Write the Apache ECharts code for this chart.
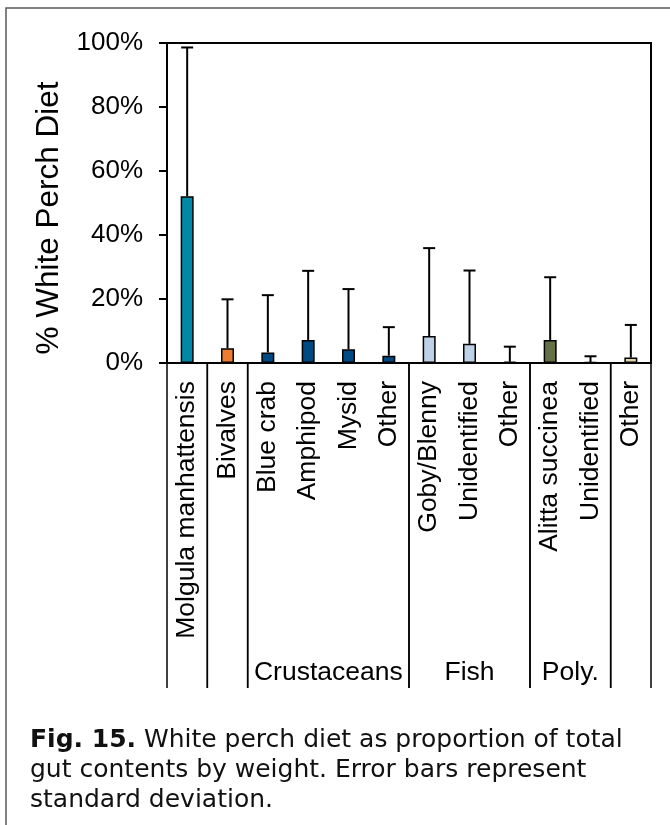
<!DOCTYPE html>
<html>
<head>
<meta charset="utf-8">
<script src="https://cdn.jsdelivr.net/npm/echarts@6/dist/echarts.min.js"></script>
<style>
html,body{margin:0;padding:0;background:#fff;}
#c{width:670px;height:825px;}
</style>
</head>
<body>
<div id="c"></div>
<script>
// ---- data ----
var categories = ['Molgula manhattensis','Bivalves','Blue crab','Amphipod','Mysid','Other','Goby/Blenny','Unidentified','Other','Alitta succinea','Unidentified','Other'];
var values = [52.1, 4.6, 3.3, 7.2, 4.3, 2.3, 8.4, 6.0, 0.4, 7.2, 0.3, 1.7];
var stdDev = [46.5, 15.3, 17.9, 21.6, 18.8, 8.9, 27.5, 22.9, 4.7, 19.6, 1.8, 10.2];
var groupNames = ['', '', 'Crustaceans', 'Fish', 'Poly.', ''];
var groupSizes = [1, 1, 4, 3, 2, 1];
var yTicks = [0, 20, 40, 60, 80, 100];
var barColors = ['#0089A7','#ED7D31','#004A84','#004A84','#004A84','#004A84','#BFD1E6','#BFD1E6','#BFD1E6','#647146','#647146','#E0D5A8'];
var captionLines = [
  ['Fig. 15.', ' White perch diet as proportion of total'],
  ['', 'gut contents by weight. Error bars represent'],
  ['', 'standard deviation.']
];

// ---- build ----
var groupData = [];
var s = 0;
for (var g = 0; g < groupNames.length; g++) {
  groupData.push([s, s + groupSizes[g] - 1, groupNames[g]]);
  s += groupSizes[g];
}
var errData = values.map(function (v, i) { return [i, v, v + stdDev[i]]; });
var barData = values.map(function (v, i) {
  return { value: v, itemStyle: { color: barColors[i] } };
});

var FONT = '"Liberation Sans", Arial, sans-serif';
var CAPFONT = '"DejaVu Sans", sans-serif';
var captionGraphics = captionLines.map(function (ln, i) {
  return {
    type: 'text', x: 30, y: 740 + i * 30, silent: true,
    style: {
      text: (ln[0] ? '{b|' + ln[0] + '}' : '') + ln[1],
      verticalAlign: 'middle', align: 'left',
      fontSize: 25, fontFamily: CAPFONT, fill: '#111',
      rich: { b: { fontWeight: 'bold', fontSize: 25, fontFamily: CAPFONT, fill: '#111' } }
    }
  };
});

var chart = echarts.init(document.getElementById('c'), null, { renderer: 'canvas' });
chart.setOption({
  animation: false,
  backgroundColor: '#fff',
  grid: { left: 167, right: 19, top: 43, bottom: 462, show: true, borderColor: '#000', borderWidth: 2 },
  xAxis: {
    type: 'category',
    data: categories,
    axisLine: { lineStyle: { color: '#000', width: 2 } },
    axisTick: { show: false },
    axisLabel: { rotate: 90, fontSize: 26.5, color: '#000', fontFamily: FONT, margin: 18, interval: 0 }
  },
  yAxis: {
    type: 'value',
    min: yTicks[0], max: yTicks[yTicks.length - 1], interval: yTicks[1] - yTicks[0],
    name: '% White Perch Diet',
    nameLocation: 'middle',
    nameGap: 100,
    nameRotate: 90,
    nameTextStyle: { fontSize: 31.5, color: '#000', fontFamily: FONT, padding: [0, 30, 0, 0] },
    splitLine: { show: false },
    axisLine: { show: true, lineStyle: { color: '#000', width: 2 } },
    axisTick: { show: true, length: 8, lineStyle: { color: '#000', width: 2 } },
    axisLabel: { formatter: '{value}%', fontSize: 26, color: '#000', fontFamily: FONT, margin: 24 }
  },
  series: [
    {
      type: 'bar',
      data: barData,
      barWidth: 13,
      itemStyle: { borderColor: '#000', borderWidth: 1.5 },
      z: 2
    },
    {
      type: 'custom',
      data: errData,
      z: 3,
      renderItem: function (params, api) {
        var x = api.value(0);
        var p0 = api.coord([x, api.value(1)]);
        var p1 = api.coord([x, api.value(2)]);
        var hw = 6;
        var st = { stroke: '#000', lineWidth: 2 };
        return {
          type: 'group',
          children: [
            { type: 'line', shape: { x1: p0[0], y1: p0[1], x2: p1[0], y2: p1[1] }, style: st },
            { type: 'line', shape: { x1: p1[0] - hw, y1: p1[1], x2: p1[0] + hw, y2: p1[1] }, style: st }
          ]
        };
      }
    },
    {
      type: 'custom',
      data: groupData,
      clip: false,
      z: 1,
      renderItem: function (params, api) {
        var a = api.coord([api.value(0), 0]);
        var b = api.coord([api.value(1), 0]);
        var bw = api.size([1, 0])[0];
        var x0 = a[0] - bw / 2, x1 = b[0] + bw / 2, y0 = a[1];
        var st = { stroke: '#000', lineWidth: 1.5 };
        return {
          type: 'group',
          children: [
            { type: 'line', shape: { x1: x0, y1: y0, x2: x0, y2: y0 + 325 }, style: st },
            { type: 'line', shape: { x1: x1, y1: y0, x2: x1, y2: y0 + 325 }, style: st },
            { type: 'text', style: { text: api.value(2), x: (x0 + x1) / 2, y: y0 + 310, align: 'center', verticalAlign: 'middle', fontSize: 26.5, fontFamily: FONT, fill: '#000' } }
          ]
        };
      }
    }
  ],
  graphic: [
    { type: 'rect', shape: { x: 6, y: 8, width: 720, height: 900 }, style: { fill: null, stroke: '#595959', lineWidth: 1.5 }, silent: true }
  ].concat(captionGraphics)
});
</script>
</body>
</html>
